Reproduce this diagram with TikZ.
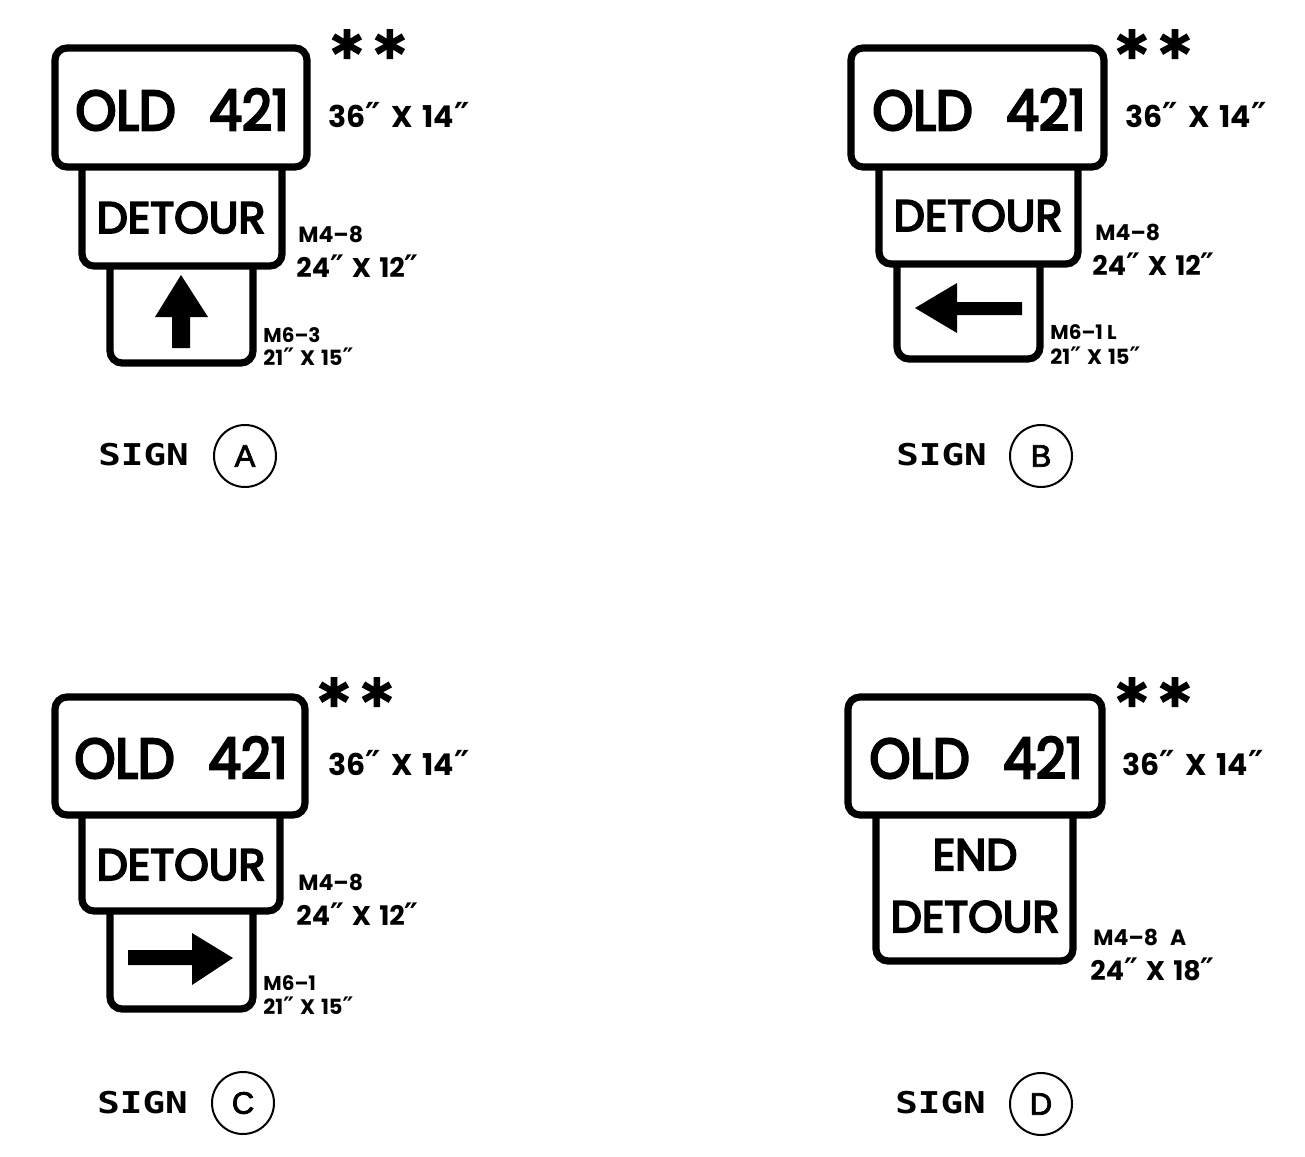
\documentclass[tikz,border=0pt]{standalone}
\usepackage{fontspec}
\usepackage{graphicx}
\newfontfamily\signfont[FakeBold=4.5]{Poppins}
\newfontfamily\labelfont{Poppins}
\newfontfamily\capfont{DejaVu Sans Mono}
\newfontfamily\starfont[FakeBold=6]{DejaVu Sans}
\newfontfamily\primefont{DejaVu Sans}
\newfontfamily\tagfont[FakeBold=2.5]{Liberation Sans}
\newcommand\dprime{{\primefont\bfseries\scalebox{1.15}{″}}}
\newcommand\oldtxt{\scalebox{0.93}[1]{OLD\hspace{18pt}421}}
\tikzset{
  panel/.style={line width=3.6pt, rounded corners=6pt},
  arrowglyph/.style={fill=black, draw=none},
  legendtxt/.style={inner sep=0pt, anchor=base west},
  bigsign/.style={inner sep=0pt, anchor=base, font=\signfont\fontsize{28}{28}\selectfont},
  signtxt/.style={inner sep=0pt, anchor=base, font=\signfont\fontsize{22}{22}\selectfont},
  stars/.style={inner sep=0pt, anchor=base west, font=\starfont\fontsize{29}{29}\selectfont},
  sizetxt/.style={legendtxt, font=\labelfont\bfseries\fontsize{15}{15}\selectfont},
  codetxt/.style={legendtxt, font=\labelfont\bfseries\fontsize{11}{11}\selectfont},
  dimtxt/.style={legendtxt, font=\labelfont\bfseries\fontsize{13.5}{13.5}\selectfont},
  smallcode/.style={legendtxt, font=\labelfont\bfseries\fontsize{10}{10}\selectfont},
  smalldim/.style={legendtxt, font=\labelfont\bfseries\fontsize{10.5}{10.5}\selectfont},
  tag/.style={circle, draw, line width=1pt, minimum size=31pt, inner sep=0pt,
    font=\tagfont\fontsize{15.5}{15.5}\selectfont},
  captxt/.style={inner sep=0pt, anchor=base west, font=\capfont\bfseries\fontsize{15}{15}\selectfont}
}
\begin{document}
\begin{tikzpicture}[x=0.5pt, y=-0.5pt]
  \useasboundingbox (0,0) rectangle (1305,1156);

  % ---------- Sign A ----------
  \draw[panel] (55,48) rectangle (307,167);
  \draw[panel] (82,167) -- (82,266) -- (282,266) -- (282,167);
  \draw[panel] (110,266) -- (110,363) -- (253,363) -- (253,266);
  \fill[arrowglyph] (172,348) -- (172,317) -- (155,317) -- (181,275)
    -- (208,317) -- (190,317) -- (190,348) -- cycle;
  \node[bigsign] (oldA) at (182,130) {\oldtxt};
  \node[signtxt] (detA) at (181,233) {DETOUR};
  \node[stars] (starA) at (332,74) {*\hspace{7pt}*};
  \node[sizetxt] (sizeA) at (328,127) {36\dprime\hspace{5pt}X\hspace{5pt}14\dprime};
  \node[codetxt] (codeA) at (298,242) {M4–8};
  \node[dimtxt] (dimA) at (296,277) {24\dprime\hspace{4pt}X\hspace{4pt}12\dprime};
  \node[smallcode] (arcA) at (263,342) {M6–3};
  \node[smalldim] (ardA) at (263,365) {21\dprime\hspace{3pt}X\hspace{3pt}15\dprime};
  \node[captxt] (capA) at (98,465) {\scalebox{1.25}[1]{SIGN}};
  \node[tag] (tagA) at (245,456) {A};

  % ---------- Sign B ----------
  \draw[panel] (851,48) rectangle (1104,167);
  \draw[panel] (879,167) -- (879,264) -- (1078,264) -- (1078,167);
  \draw[panel] (897,264) -- (897,359) -- (1040,359) -- (1040,264);
  \fill[arrowglyph] (1022,302) -- (957,302) -- (957,283) -- (915,308)
    -- (957,333) -- (957,315) -- (1022,315) -- cycle;
  \node[bigsign] (oldB) at (979,130) {\oldtxt};
  \node[signtxt] (detB) at (978,231) {DETOUR};
  \node[stars] (starB) at (1117,74) {*\hspace{7pt}*};
  \node[sizetxt] (sizeB) at (1125,127) {36\dprime\hspace{5pt}X\hspace{5pt}14\dprime};
  \node[codetxt] (codeB) at (1095,240) {M4–8};
  \node[dimtxt] (dimB) at (1092,275) {24\dprime\hspace{4pt}X\hspace{4pt}12\dprime};
  \node[smallcode] (arcB) at (1050,339) {M6–1 L};
  \node[smalldim] (ardB) at (1050,364) {21\dprime\hspace{3pt}X\hspace{3pt}15\dprime};
  \node[captxt] (capB) at (896,465) {\scalebox{1.25}[1]{SIGN}};
  \node[tag] (tagB) at (1041,456) {B};

  % ---------- Sign C ----------
  \draw[panel] (55,697) rectangle (305,815);
  \draw[panel] (82,815) -- (82,911) -- (280,911) -- (280,815);
  \draw[panel] (110,911) -- (110,1009) -- (253,1009) -- (253,911);
  \fill[arrowglyph] (128,950) -- (192,950) -- (192,933) -- (233,958)
    -- (192,985) -- (192,965) -- (128,965) -- cycle;
  \node[bigsign] (oldC) at (181,778) {\oldtxt};
  \node[signtxt] (detC) at (181,880) {DETOUR};
  \node[stars] (starC) at (319,722) {*\hspace{7pt}*};
  \node[sizetxt] (sizeC) at (328,775) {36\dprime\hspace{5pt}X\hspace{5pt}14\dprime};
  \node[codetxt] (codeC) at (298,890) {M4–8};
  \node[dimtxt] (dimC) at (296,925) {24\dprime\hspace{4pt}X\hspace{4pt}12\dprime};
  \node[smallcode] (arcC) at (263,990) {M6–1};
  \node[smalldim] (ardC) at (263,1014) {21\dprime\hspace{3pt}X\hspace{3pt}15\dprime};
  \node[captxt] (capC) at (97,1113) {\scalebox{1.25}[1]{SIGN}};
  \node[tag] (tagC) at (243,1103) {C};

  % ---------- Sign D ----------
  \draw[panel] (848,697) rectangle (1102,815);
  \draw[panel] (876,815) -- (876,961) -- (1073,961) -- (1073,815);
  \node[bigsign] (oldD) at (976,778) {\oldtxt};
  \node[signtxt] (endD) at (975,870) {END};
  \node[signtxt] (detD) at (975,932) {DETOUR};
  \node[stars] (starD) at (1117,722) {*\hspace{7pt}*};
  \node[sizetxt] (sizeD) at (1122,775) {36\dprime\hspace{5pt}X\hspace{5pt}14\dprime};
  \node[codetxt] (codeD) at (1093,945) {M4–8\hspace{6pt}A};
  \node[dimtxt] (dimD) at (1090,980) {24\dprime\hspace{4pt}X\hspace{4pt}18\dprime};
  \node[captxt] (capD) at (895,1113) {\scalebox{1.25}[1]{SIGN}};
  \node[tag] (tagD) at (1041,1104) {D};
\end{tikzpicture}
\end{document}
